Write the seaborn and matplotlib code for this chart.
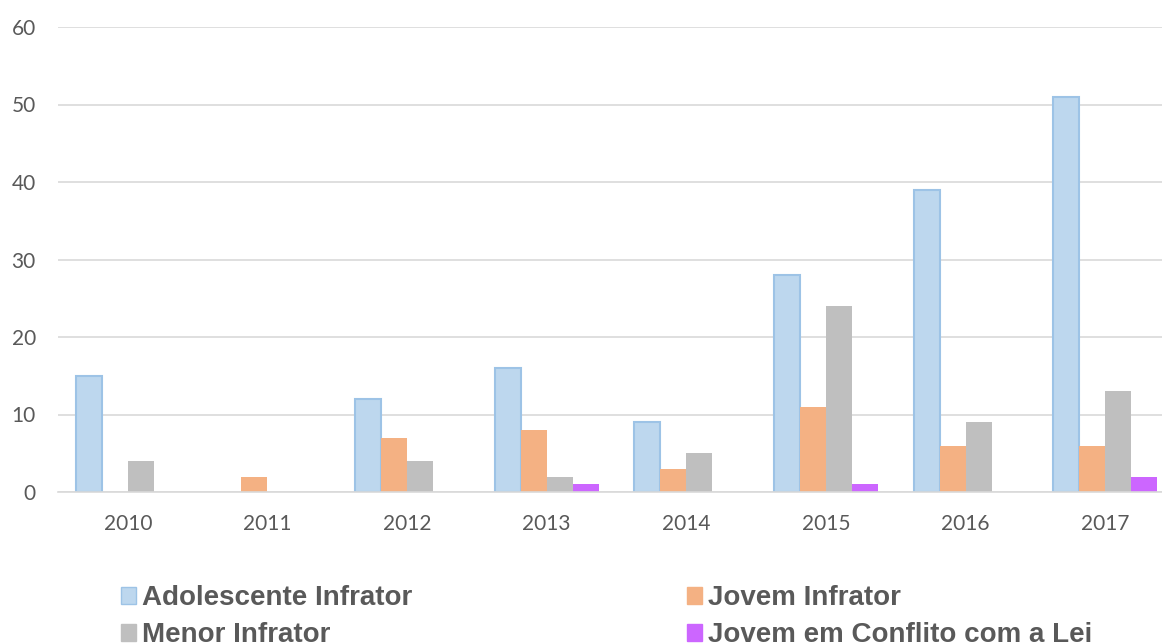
import pandas as pd
import numpy as np
import matplotlib.pyplot as plt
import seaborn as sns

anos = ['2010', '2011', '2012', '2013', '2014', '2015', '2016', '2017']
series = ['Adolescente Infrator', 'Jovem Infrator', 'Menor Infrator',
          'Jovem em Conflito com a Lei']
adolescente = [15, 0, 12, 16, 9, 28, 39, 51]
jovem = [0, 2, 7, 8, 3, 11, 6, 6]
menor = [4, 0, 4, 2, 5, 24, 9, 13]
conflito = [0, 0, 0, 1, 0, 1, 0, 2]
cores = ['#BDD7EE', '#F4B183', '#BFBFBF', '#CC66FF']

df = pd.DataFrame({'ano': anos * 4,
                   'termo': np.repeat(series, len(anos)),
                   'valor': adolescente + jovem + menor + conflito})

sns.set_style('white')
plt.rcParams['font.family'] = ['Lato', 'DejaVu Sans']

fig = plt.figure(figsize=(11.62, 6.44), dpi=100)
ax = fig.add_axes([58 / 1162, 1 - 492 / 644, 1117 / 1162, 465 / 644])

sns.barplot(data=df, x='ano', y='valor', hue='termo', hue_order=series,
            palette=cores, width=0.745, gap=0, saturation=1, ax=ax,
            legend=False)

# borda azul só na primeira série, e nada nas barras vazias
for i, p in enumerate(ax.patches):
    if p.get_height() == 0:
        p.set_linewidth(0)
    elif i < len(anos):
        p.set_edgecolor('#9DC3E6')
        p.set_linewidth(1.5)
    else:
        p.set_linewidth(0)

ax.set_ylim(0, 60)
ax.set_xlim(-0.5, 7.5)
ax.set_yticks(range(0, 61, 10))
ax.yaxis.grid(True, color='#D9D9D9', linewidth=1.2)
ax.set_axisbelow(True)
for s in ['top', 'right', 'left']:
    ax.spines[s].set_visible(False)
ax.spines['bottom'].set_color('#D9D9D9')
ax.spines['bottom'].set_linewidth(1.2)
ax.tick_params(axis='y', length=0, pad=16, labelsize=15, labelcolor='#595959')
ax.tick_params(axis='x', length=0, pad=16, labelsize=15, labelcolor='#595959')
ax.set_xlabel('')
ax.set_ylabel('')

handles = [plt.Rectangle((0, 0), 1, 1, facecolor=c,
                         edgecolor='#9DC3E6' if c == '#BDD7EE' else c)
           for c in cores]
ordem = [0, 2, 1, 3]
fig.legend([handles[i] for i in ordem], [series[i] for i in ordem],
           loc='upper left', bbox_to_anchor=(121 / 1162, 1 - 585 / 644),
           ncol=2, frameon=False, handlelength=0.55, handleheight=0.55,
           handletextpad=0.2, columnspacing=9.9, labelspacing=0.4,
           prop={'family': ['Liberation Sans', 'DejaVu Sans'],
                 'weight': 'bold', 'size': 20},
           labelcolor='#595959', borderaxespad=0, borderpad=0)

plt.savefig('out.png', dpi=100)
